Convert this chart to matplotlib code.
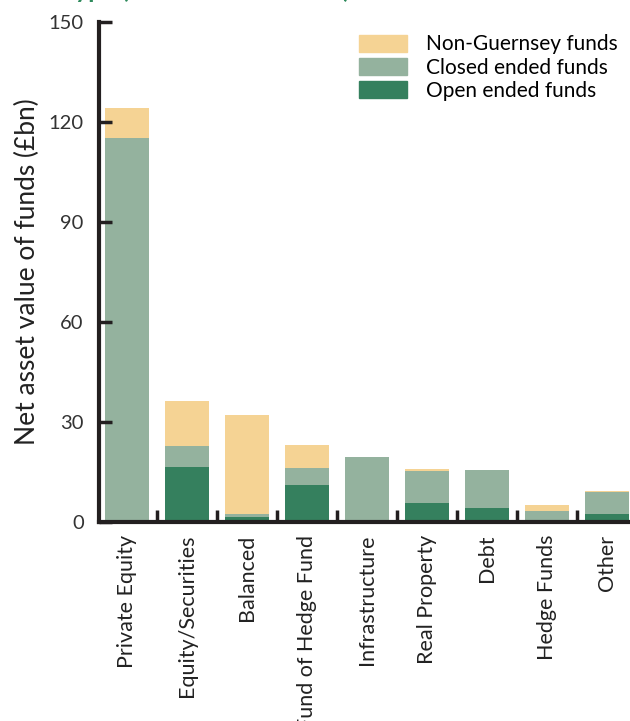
import numpy as np
import matplotlib
matplotlib.use('Agg')
import matplotlib.pyplot as plt
from matplotlib.patches import Patch

plt.rcParams['font.family'] = ['Lato', 'DejaVu Sans']

# fund categories and values (GBP bn)
categories = ['Private Equity', 'Equity/Securities', 'Balanced', 'Fund of Hedge Fund',
              'Infrastructure', 'Real Property', 'Debt', 'Hedge Funds', 'Other']
open_ended = [0.5, 16.5, 1.4, 11.1, 0.5, 5.7, 4.2, 0.4, 2.4]
closed_ended = [114.7, 6.3, 1.0, 5.1, 19.0, 9.6, 11.4, 2.9, 6.6]
non_guernsey = [9.0, 13.5, 29.7, 6.9, 0.0, 0.6, 0.0, 1.8, 0.3]

c_open = '#35805e'
c_closed = '#94b29e'
c_nong = '#f5d394'
dark = '#231f20'

fig = plt.figure(figsize=(6.3, 7.21), dpi=100)
ax = fig.add_axes([0.157, 0.276, 0.843, 0.6935])

x = np.arange(len(categories))
op = np.array(open_ended)
cl = np.array(closed_ended)
ng = np.array(non_guernsey)
w = 0.73
ax.bar(x, op, w, color=c_open)
ax.bar(x, cl, w, bottom=op, color=c_closed)
ax.bar(x, ng, w, bottom=op + cl, color=c_nong)

ax.set_xlim(-0.467, 8.38)
ax.set_ylim(0, 150)
ax.set_yticks([0, 30, 60, 90, 120, 150])
ax.tick_params(axis='y', direction='in', length=9, width=2.5, color=dark,
               labelsize=14.5, labelcolor='#333333', pad=11)

ax.set_xticks(x)
ax.set_xticklabels(categories, rotation=90, fontsize=15.5, color='#222222')
ax.tick_params(axis='x', which='major', length=0, pad=9)
ax.set_xticks(x[:-1] + 0.5, minor=True)
ax.tick_params(axis='x', which='minor', direction='in', length=9, width=2.5, color=dark)

for s in ['top', 'right']:
    ax.spines[s].set_visible(False)
for s in ['left', 'bottom']:
    ax.spines[s].set_linewidth(3)
    ax.spines[s].set_color(dark)

ax.set_ylabel('Net asset value of funds (£bn)', fontsize=19, color='#222222', labelpad=6)

handles = [Patch(color=c_nong, label='Non-Guernsey funds'),
           Patch(color=c_closed, label='Closed ended funds'),
           Patch(color=c_open, label='Open ended funds')]
ax.legend(handles=handles, loc='upper right', bbox_to_anchor=(1.0, 1.0),
          frameon=False, fontsize=15, handlelength=2.3, handleheight=0.9,
          labelspacing=0.15, handletextpad=0.9, borderaxespad=0.2)

# title cut off at the top of the original image
fig.text(0.005, 1.003, 'Fund type (31 December 2015)', fontsize=18, fontweight='bold',
         color='#2e8a5c', va='baseline', ha='left')

fig.savefig('out.png', dpi=100)
